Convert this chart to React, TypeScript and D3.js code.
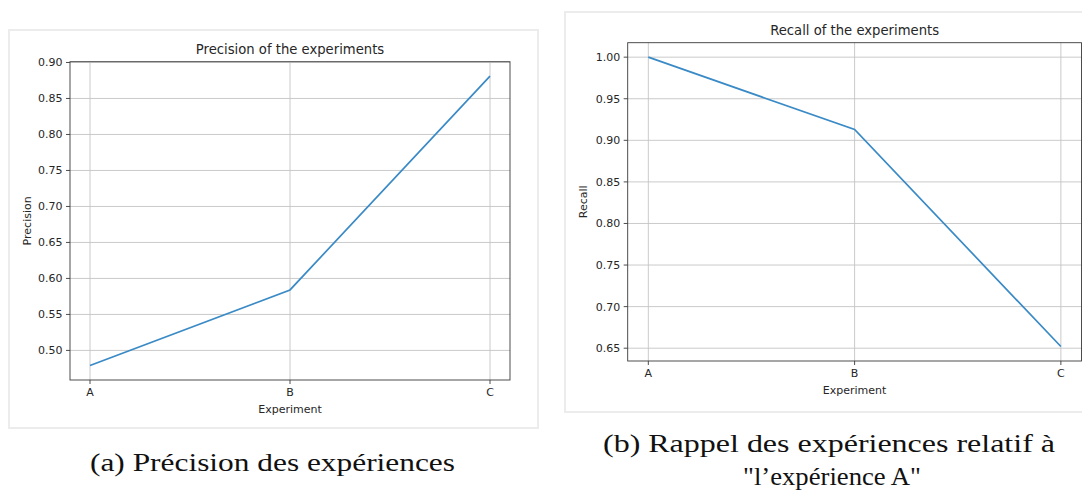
import React from "react";
import * as d3 from "d3";

const categories = ["A", "B", "C"];
const precisionValues = [0.479, 0.584, 0.881];
const recallValues = [1.0, 0.913, 0.652];
const precisionTicks = [0.5, 0.55, 0.6, 0.65, 0.7, 0.75, 0.8, 0.85, 0.9];
const recallTicks = [0.65, 0.7, 0.75, 0.8, 0.85, 0.9, 0.95, 1.0];

const FONT = "'DejaVu Sans', sans-serif";
const SERIF = "'Liberation Serif', 'DejaVu Serif', serif";
const TXT = "#262626";

type PanelProps = {
  title: string;
  ylabel: string;
  values: number[];
  ticks: number[];
  left: number;
  right: number;
  top: number;
  bottom: number;
  frame: { x: number; y: number; w: number; h: number };
  ylabelX: number;
};

function Panel(p: PanelProps) {
  const x = d3.scaleLinear().domain([-0.1, 2.1]).range([p.left, p.right]);
  const [mn, mx] = d3.extent(p.values) as [number, number];
  const pad = (mx - mn) * 0.05;
  const y = d3.scaleLinear().domain([mn - pad, mx + pad]).range([p.bottom, p.top]);
  const line = d3
    .line<number>()
    .x((_, i) => x(i))
    .y((d) => y(d));
  const fmt = d3.format(".2f");
  const cx = (p.left + p.right) / 2;
  const cy = (p.top + p.bottom) / 2;
  return (
    <g>
      <rect
        x={p.frame.x}
        y={p.frame.y}
        width={p.frame.w}
        height={p.frame.h}
        fill="#fff"
        stroke="#ececec"
        strokeWidth={2}
      />
      {/* grid */}
      {p.ticks.map((t) => (
        <line
          key={"gy" + t}
          x1={p.left}
          x2={p.right}
          y1={y(t)}
          y2={y(t)}
          stroke="#c4c4c4"
          strokeWidth={0.9}
        />
      ))}
      {categories.map((c, i) => (
        <line
          key={"gx" + c}
          x1={x(i)}
          x2={x(i)}
          y1={p.top}
          y2={p.bottom}
          stroke="#c4c4c4"
          strokeWidth={0.9}
        />
      ))}
      {/* line */}
      <path d={line(p.values) || ""} fill="none" stroke="#3a8ac6" strokeWidth={1.7} />
      {/* spines */}
      <rect
        x={p.left}
        y={p.top}
        width={p.right - p.left}
        height={p.bottom - p.top}
        fill="none"
        stroke="#3a3a3a"
        strokeWidth={0.9}
      />
      {/* y ticks */}
      {p.ticks.map((t) => (
        <g key={"ty" + t}>
          <line x1={p.left - 4} x2={p.left} y1={y(t)} y2={y(t)} stroke="#3a3a3a" strokeWidth={0.9} />
          <text
            x={p.left - 7.5}
            y={y(t)}
            dy="0.36em"
            textAnchor="end"
            fontFamily={FONT}
            fontSize={11}
            fill={TXT}
          >
            {fmt(t)}
          </text>
        </g>
      ))}
      {/* x ticks */}
      {categories.map((c, i) => (
        <g key={"tx" + c}>
          <line x1={x(i)} x2={x(i)} y1={p.bottom} y2={p.bottom + 4} stroke="#3a3a3a" strokeWidth={0.9} />
          <text
            x={x(i)}
            y={p.bottom + 12.5}
            dy="0.36em"
            textAnchor="middle"
            fontFamily={FONT}
            fontSize={11}
            fill={TXT}
          >
            {c}
          </text>
        </g>
      ))}
      <text
        x={cx}
        y={p.bottom + 29}
        dy="0.36em"
        textAnchor="middle"
        fontFamily={FONT}
        fontSize={11}
        fill={TXT}
      >
        Experiment
      </text>
      <text
        transform={`translate(${p.ylabelX},${cy}) rotate(-90)`}
        dy="0.36em"
        textAnchor="middle"
        fontFamily={FONT}
        fontSize={11}
        fill={TXT}
      >
        {p.ylabel}
      </text>
      <text
        x={cx}
        y={p.top - 12.5}
        dy="0.36em"
        textAnchor="middle"
        fontFamily={FONT}
        fontSize={13.2}
        fill={TXT}
      >
        {p.title}
      </text>
    </g>
  );
}

export default function App() {
  return (
    <div style={{ position: "absolute", left: 0, top: 0 }}>
      <svg width={1082} height={494} style={{ display: "block", background: "#fff" }}>
        <Panel
          title="Precision of the experiments"
          ylabel="Precision"
          values={precisionValues}
          ticks={precisionTicks}
          left={70}
          right={510}
          top={61.7}
          bottom={380}
          frame={{ x: 9, y: 30, w: 529, h: 398 }}
          ylabelX={27}
        />
        <Panel
          title="Recall of the experiments"
          ylabel="Recall"
          values={recallValues}
          ticks={recallTicks}
          left={627.7}
          right={1081.5}
          top={42.7}
          bottom={361}
          frame={{ x: 565, y: 12, w: 520, h: 400 }}
          ylabelX={583}
        />
        <text
          x={272.5}
          y={471}
          textAnchor="middle"
          fontFamily={SERIF}
          fontSize={26}
          fill="#111"
          textLength={365}
          lengthAdjust="spacingAndGlyphs"
        >
          (a) Précision des expériences
        </text>
        <text
          x={829}
          y={452}
          textAnchor="middle"
          fontFamily={SERIF}
          fontSize={26}
          fill="#111"
          textLength={452}
          lengthAdjust="spacingAndGlyphs"
        >
          (b) Rappel des expériences relatif à
        </text>
        <text
          x={832}
          y={485}
          textAnchor="middle"
          fontFamily={SERIF}
          fontSize={26}
          fill="#111"
          textLength={178}
          lengthAdjust="spacingAndGlyphs"
        >
          "l’expérience A"
        </text>
      </svg>
    </div>
  );
}
